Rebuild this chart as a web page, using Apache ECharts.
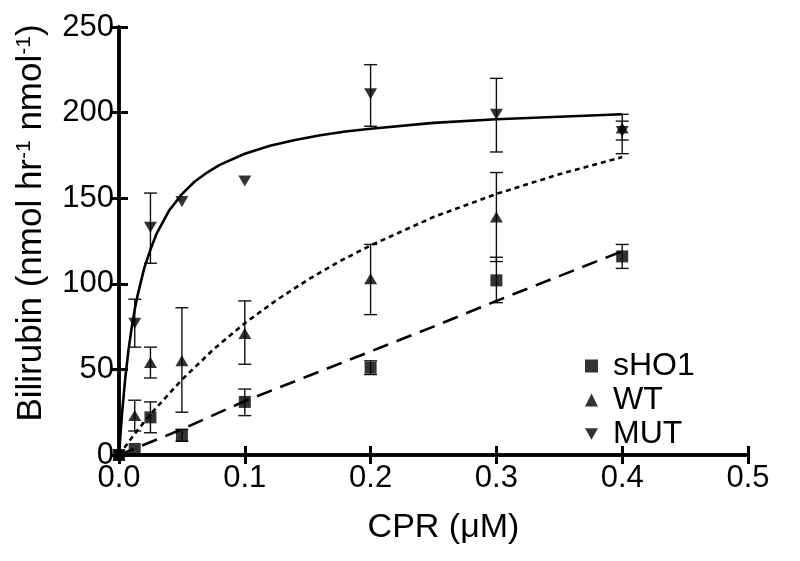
<!DOCTYPE html>
<html>
<head>
<meta charset="utf-8">
<script src="https://cdn.jsdelivr.net/npm/echarts@6/dist/echarts.min.js"></script>
<style>
html,body{margin:0;padding:0;background:#fff;}
#chart{width:800px;height:561px;}
</style>
</head>
<body>
<div id="chart"></div>
<script>
// ---- data ----
var xTicks = [0, 0.1, 0.2, 0.3, 0.4, 0.5];
var yTicks = [0, 50, 100, 150, 200, 250];

// measured points [CPR, bilirubin]
var sHO1Points = [[0,0],[0.0125,3.5],[0.025,22],[0.05,11.5],[0.1,31],[0.2,51],[0.3,102],[0.4,116]];
var wtPoints   = [[0,0],[0.0125,23],[0.025,54],[0.05,55],[0.1,71],[0.2,103],[0.3,139],[0.4,191]];
var mutPoints  = [[0,0],[0.0125,77],[0.025,133],[0.05,148],[0.1,160],[0.2,211],[0.3,199],[0.4,189]];

// error bars [CPR, low, high]
var sHO1Err = [[0.025,13,31],[0.05,8,15],[0.1,23,38.5],[0.2,47,55],[0.3,89,115.5],[0.4,109,123]];
var wtErr   = [[0.0125,14,32],[0.025,45,63],[0.05,25,86],[0.1,53,90],[0.2,82,123],[0.3,113,165],[0.4,176,199]];
var mutErr  = [[0.0125,63,91],[0.025,112,153],[0.2,192,228],[0.3,177,220],[0.4,184,195]];

// fitted curves
var sHO1Fit = [[0,0],[0.05,15],[0.1,31.5],[0.15,46],[0.2,60.5],[0.25,75],[0.3,90],[0.35,104.5],[0.4,119]];
var wtFit   = [[0,0],[0.0125,12.4],[0.025,23.8],[0.05,44],[0.075,61.6],[0.1,77],[0.125,90.4],[0.15,102.3],
               [0.175,113],[0.2,122.4],[0.25,139],[0.3,152.5],[0.35,164],[0.4,174]];
var mutFit  = [[0,0],[0.0025,25],[0.005,45],[0.0075,61],[0.01,74],[0.0125,85],[0.015,94],[0.02,109],
               [0.025,120],[0.03,129.5],[0.04,143],[0.05,152.4],[0.06,159.6],[0.07,165],[0.08,169.5],
               [0.1,176],[0.12,180.6],[0.14,184],[0.16,186.8],[0.18,189],[0.2,190.6],[0.25,194],
               [0.3,196.1],[0.35,197.6],[0.4,199]];

var FONT = '"Liberation Sans", Arial, sans-serif';
var downTri = 'path://M0,0L10,0L5,9Z';

var chart = echarts.init(document.getElementById('chart'), null, {renderer:'canvas'});

function errRender(params, api){
  var x = api.value(0), lo = api.value(1), hi = api.value(2);
  var p1 = api.coord([x, lo]), p2 = api.coord([x, hi]);
  var w = 6.5;
  var st = {stroke:'#111', lineWidth:1.4};
  return {type:'group', children:[
    {type:'line', shape:{x1:p1[0],y1:p1[1],x2:p2[0],y2:p2[1]}, style:st},
    {type:'line', shape:{x1:p1[0]-w,y1:p1[1],x2:p1[0]+w,y2:p1[1]}, style:st},
    {type:'line', shape:{x1:p2[0]-w,y1:p2[1],x2:p2[0]+w,y2:p2[1]}, style:st}
  ]};
}

function errSeries(data){
  return {type:'custom', renderItem:errRender, data:data, encode:{x:0,y:[1,2]}, silent:true, z:2, clip:false};
}

var axisLine = {show:true, lineStyle:{color:'#000', width:3.5}};
var tickIn = {show:true, inside:true, length:9, lineStyle:{color:'#000', width:3}};

var option = {
  animation:false,
  backgroundColor:'#fff',
  grid:{left:119, right:52, top:27, bottom:106, containLabel:false},
  legend:{
    orient:'vertical', left:580, top:345, itemGap:2, itemWidth:13, itemHeight:13,
    data:['sHO1','WT','MUT'],
    textStyle:{fontFamily:FONT, fontSize:32, color:'#000', padding:[0,0,0,10]}
  },
  xAxis:[{
    type:'value', min:0, max:0.5, interval:0.1, position:'bottom',
    name:'CPR (\u03bcM)', nameLocation:'middle', nameGap:56,
    nameTextStyle:{fontFamily:FONT, fontSize:34, color:'#000', padding:[0,0,0,20]},
    axisLine:axisLine, axisTick:tickIn, splitLine:{show:false},
    axisLabel:{fontFamily:FONT, fontSize:31, color:'#000', margin:8,
      formatter:function(v){return v.toFixed(1);}}
  },{
    type:'value', min:0, max:0.5, interval:0.1, position:'top',
    axisLine:axisLine, axisTick:tickIn, axisLabel:{show:false}, splitLine:{show:false}
  }],
  yAxis:[{
    type:'value', min:0, max:250, interval:50, position:'left',
    name:'Bilirubin (nmol hr{s|-1} nmol{s|-1})', nameLocation:'middle', nameGap:70, nameRotate:90,
    nameTextStyle:{fontFamily:FONT, fontSize:35, color:'#000', padding:[0,0,0,36],
      rich:{s:{fontFamily:FONT, fontSize:21, color:'#000', verticalAlign:'top', padding:[0,0,12,0]}}},
    axisLine:axisLine, axisTick:tickIn, splitLine:{show:false},
    axisLabel:{fontFamily:FONT, fontSize:31, color:'#000', margin:5}
  },{
    type:'value', min:0, max:250, interval:50, position:'right',
    axisLine:axisLine, axisTick:tickIn, axisLabel:{show:false}, splitLine:{show:false}
  }],
  series:[
    {name:'MUT-fit', type:'line', data:mutFit, showSymbol:false, silent:true,
      lineStyle:{color:'#000', width:2.6}, z:3},
    {name:'WT-fit', type:'line', data:wtFit, showSymbol:false, silent:true,
      lineStyle:{color:'#000', width:2.6, type:[5,4]}, z:3},
    {name:'sHO1-fit', type:'line', data:sHO1Fit, showSymbol:false, silent:true,
      lineStyle:{color:'#000', width:2.6, type:[16,9]}, z:3},
    errSeries(sHO1Err), errSeries(wtErr), errSeries(mutErr),
    {name:'sHO1', type:'scatter', data:sHO1Points, symbol:'rect', symbolSize:12, itemStyle:{color:'#000'}, z:5, clip:false},
    {name:'WT', type:'scatter', data:wtPoints, symbol:'triangle', symbolSize:[13,11], itemStyle:{color:'#000'}, z:5, clip:false},
    {name:'MUT', type:'scatter', data:mutPoints, symbol:downTri, symbolSize:[13,11], itemStyle:{color:'#000'}, z:5, clip:false}
  ]
};
chart.setOption(option);
</script>
</body>
</html>
